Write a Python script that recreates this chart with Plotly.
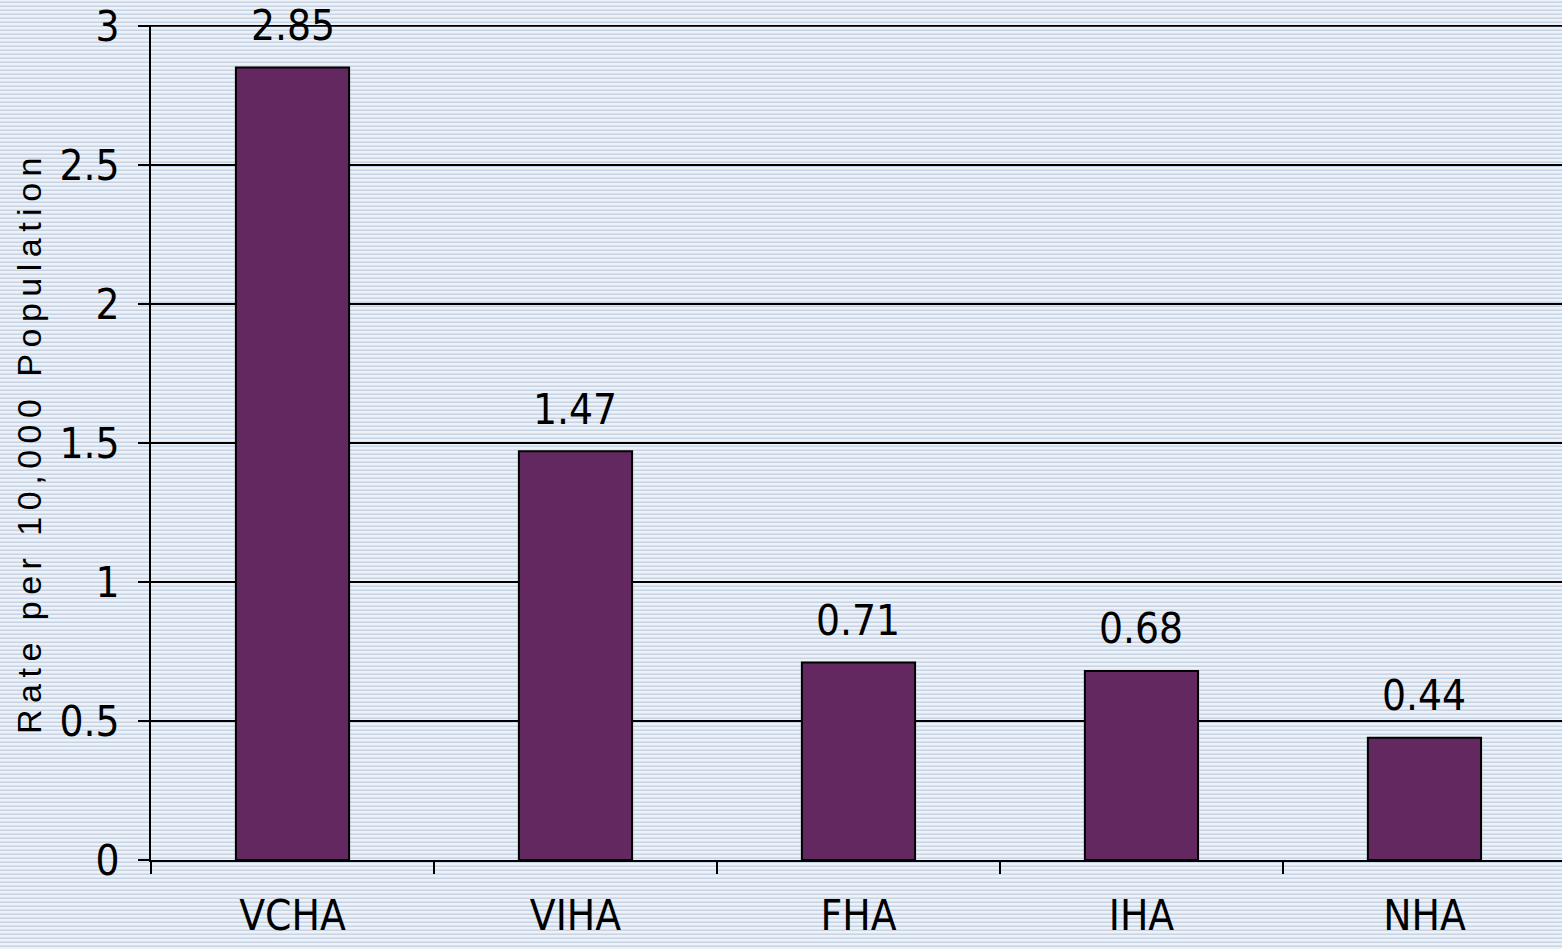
import base64
import plotly.graph_objects as go

categories = ["VCHA", "VIHA", "FHA", "IHA", "NHA"]
rates = [2.85, 1.47, 0.71, 0.68, 0.44]
label_text = ["2.85", "1.47", "0.71", "0.68", "0.44"]
y_ticks = [0, 0.5, 1, 1.5, 2, 2.5, 3]
y_ticktext = ["0", "0.5", "1", "1.5", "2", "2.5", "3"]
y_title = "Rate per 10,000 Population"

W, H = 1562, 949
ML, MR, MT, MB = 151, 0, 25, 89
PW, PH = W - ML - MR, H - MT - MB

svg = (
    f"<svg xmlns='http://www.w3.org/2000/svg' width='{W}' height='{H}'>"
    "<defs><pattern id='p' width='8' height='4' patternUnits='userSpaceOnUse'>"
    "<rect width='8' height='4' fill='#eef2f8'/>"
    "<rect y='1' width='8' height='1' fill='#d8e1ec'/>"
    "<rect y='2' width='8' height='1' fill='#c7d4e4'/>"
    "</pattern></defs>"
    f"<rect width='{W}' height='{H}' fill='url(#p)'/></svg>"
)
bg_src = "data:image/svg+xml;base64," + base64.b64encode(svg.encode()).decode()

NARROW = "DejaVu Sans Condensed, Liberation Sans Narrow, Arial Narrow, Liberation Sans, Arial"
REG = "Liberation Sans, Arial"

fig = go.Figure()
fig.add_trace(go.Bar(
    x=categories, y=rates,
    marker=dict(color="#62285f", line=dict(color="black", width=2)),
    width=0.4,
    cliponaxis=False,
))

for c, v, t in zip(categories, rates, label_text):
    fig.add_annotation(x=c, y=v, text=t, showarrow=False, yshift=42,
                       font=dict(family=NARROW, size=42, color="black"))

# top gridline (plotly drops the grid line lying on the plot edge)
fig.add_shape(type="line", xref="paper", yref="y", x0=0, x1=1,
              y0=y_ticks[-1], y1=y_ticks[-1], line=dict(color="black", width=2),
              layer="below")

fig.update_layout(
    width=W, height=H,
    margin=dict(l=ML, r=MR, t=MT, b=MB),
    paper_bgcolor="#dfe6ef",
    plot_bgcolor="rgba(0,0,0,0)",
    showlegend=False,
    images=[dict(source=bg_src, xref="paper", yref="paper",
                 x=-ML / PW, y=1 + MT / PH, sizex=W / PW, sizey=H / PH,
                 sizing="stretch", xanchor="left", yanchor="top", layer="below")],
    xaxis=dict(
        range=[-0.5, 4.486],
        showline=True, linecolor="black", linewidth=2,
        ticks="outside", tickson="boundaries", ticklen=12, tickwidth=2, tickcolor="black",
        tickfont=dict(family=NARROW, size=42, color="black"),
        ticklabelstandoff=18,
        showgrid=False, zeroline=False,
    ),
    yaxis=dict(
        range=[0, 3.003],
        tickmode="array", tickvals=y_ticks, ticktext=y_ticktext,
        showline=True, linecolor="black", linewidth=2,
        ticks="outside", ticklen=11, tickwidth=2, tickcolor="black",
        tickfont=dict(family=NARROW, size=42, color="black"),
        ticklabelstandoff=10,
        showgrid=True, gridcolor="black", gridwidth=2,
        zeroline=False,
        title=dict(text=y_title, font=dict(family=REG, size=34, color="black"), standoff=8),
    ),
)

post = (
    "document.body.style.margin='0';"
    "document.body.style.overflow='hidden';"
    "var t=document.querySelector('.ytitle'); if(t){t.style.letterSpacing='6.5px';}"
)
fig.write_html("out.html", post_script=post, config={"displayModeBar": False})
